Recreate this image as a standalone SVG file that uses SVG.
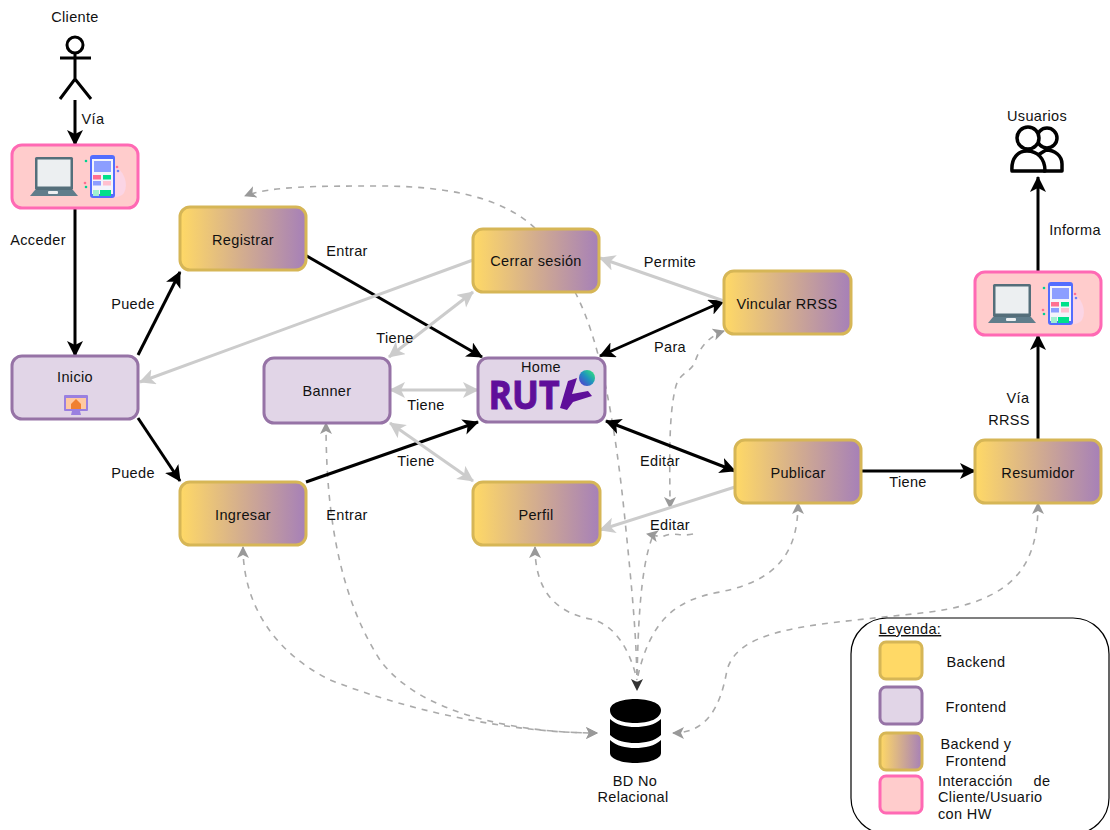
<svg xmlns="http://www.w3.org/2000/svg" xmlns:xlink="http://www.w3.org/1999/xlink" width="1110" height="830" viewBox="0 0 1110 830">
<style>
text{font-family:"Liberation Sans",Arial,sans-serif;font-size:14.5px;letter-spacing:.35px;fill:#111;text-anchor:middle;-webkit-text-stroke:.45px #111;transform:translateY(1px)}
.n{stroke-width:3}
.b{fill:#ffd966;stroke:#d6b656}
.f{fill:#e1d5e7;stroke:#9673a6}
.g{fill:url(#gr);stroke:#d6b656}
.h{fill:#ffcccc;stroke:#ff69b4}
.k{fill:none;stroke:#000;stroke-width:3}
.l{fill:none;stroke:#ccc;stroke-width:3}
.d{fill:none;stroke:#aaa;stroke-width:1.6;stroke-dasharray:6 6}
</style>
<defs>
<linearGradient id="gr"><stop offset="0" stop-color="#ffd966"/><stop offset="1" stop-color="#a680b8"/></linearGradient>
<linearGradient id="ball" x1="0" y1="1" x2="1" y2="0"><stop offset="0" stop-color="#5a30d0"/><stop offset=".5" stop-color="#2090c0"/><stop offset="1" stop-color="#30f070"/></linearGradient>
<marker id="ak" markerUnits="userSpaceOnUse" markerWidth="18" markerHeight="18" refX="15" refY="8" orient="auto-start-reverse"><path d="M0 0L16 8L0 16L4 8Z" fill="#000"/></marker>
<marker id="al" markerUnits="userSpaceOnUse" markerWidth="18" markerHeight="18" refX="15" refY="8" orient="auto-start-reverse"><path d="M0 0L16 8L0 16L4 8Z" fill="#ccc"/></marker>
<marker id="ad" markerUnits="userSpaceOnUse" markerWidth="14" markerHeight="14" refX="11" refY="6" orient="auto-start-reverse"><path d="M0 0L12 6L0 12L3 6Z" fill="#999"/></marker>
<marker id="adk" markerUnits="userSpaceOnUse" markerWidth="14" markerHeight="14" refX="11" refY="6" orient="auto-start-reverse"><path d="M0 0L12 6L0 12L3 6Z" fill="#333"/></marker>
<symbol id="hw" overflow="visible">
<rect x="7" y="0" width="38" height="33" rx="1.500" fill="#546e7a"/>
<rect x="9.500" y="2.500" width="33" height="27" fill="#eceff1"/>
<path d="M7 33H45L50 39H2Z" fill="#607d8b"/>
<rect x="20" y="34" width="10" height="3" rx="1" fill="#eceff1"/>
<path d="M84 6C96 14 101 26 96 36C93 40 87 41 82 40Z" fill="#fbd5e5"/>
<rect x="62" y="-2" width="25" height="43" rx="3" fill="#536dfe"/>
<rect x="64" y="2" width="21" height="35" fill="#f3f4fb"/>
<rect x="66" y="4" width="17" height="11" fill="#8c9eff"/>
<rect x="65" y="18" width="8" height="4.500" fill="#ff6f91"/><rect x="75" y="18" width="8" height="4.500" fill="#00e08a"/>
<rect x="65" y="24" width="8" height="4.500" fill="#8c9eff"/><rect x="75" y="24" width="8" height="4.500" fill="#ffc0d0"/>
<rect x="65" y="33" width="6" height="6" fill="#a0f0d0"/><rect x="72" y="33" width="11" height="6" fill="#00e08a"/>
<circle cx="58" cy="4" r="1.300" fill="#00d090"/><circle cx="57" cy="26" r="1.300" fill="#ff6f91"/><circle cx="58" cy="30" r="1.300" fill="#00d090"/><circle cx="89" cy="10" r="1.300" fill="#ff6f91"/><circle cx="90" cy="14" r="1.300" fill="#7080f0"/>
</symbol>
</defs>
<rect width="1110" height="830" fill="#fff"/>

<g id="connectors">
<path class="d" d="M535 228C500 195 440 186 380 186C320 186 270 186 245 196" marker-end="url(#ad)"/>
<path class="d" d="M575 292C600 340 615 420 625 520C632 590 637 640 637 690" marker-end="url(#adk)"/>
<path class="d" d="M326 423C326 500 335 590 380 660C420 715 520 733 597 733" marker-start="url(#ad)" marker-end="url(#ad)"/>
<path class="d" d="M243 547C243 600 270 650 330 680C420 715 520 733 597 733" marker-start="url(#ad)" marker-end="url(#ad)"/>
<path class="d" d="M535 547C535 590 555 612 590 619C615 624 630 650 637 680" marker-start="url(#ad)"/>
<path class="d" d="M798 503C798 550 780 580 720 592C675 600 650 620 637 680" marker-start="url(#ad)"/>
<path class="d" d="M1038 503C1038 560 1020 600 930 612C820 625 740 625 727 670C720 710 705 733 673 733" marker-start="url(#ad)" marker-end="url(#ad)"/>
<path class="d" d="M724 331C712 335 700 345 695 362C690 374 678 372 675 390C668 420 670 470 670 508" marker-start="url(#ad)" marker-end="url(#ad)"/>
<path class="d" d="M693 534C680 537 672 531 662 537L647 534" marker-end="url(#ad)"/>
<path class="d" d="M652 538C640 570 638 630 637 680"/>

<path class="k" d="M75 100V145" marker-end="url(#ak)"/>
<path class="k" d="M75 208V356" marker-end="url(#ak)"/>
<path class="k" d="M138 355L180 272" marker-end="url(#ak)"/>
<path class="k" d="M138 418L180 481" marker-end="url(#ak)"/>
<path class="k" d="M305 255L482 357" marker-end="url(#ak)"/>
<path class="k" d="M306 482L478 422" marker-end="url(#ak)"/>
<path class="k" d="M724 301L600 356" marker-start="url(#ak)" marker-end="url(#ak)"/>
<path class="k" d="M606 421L735 471" marker-start="url(#ak)" marker-end="url(#ak)"/>
<path class="k" d="M861 471H975" marker-end="url(#ak)"/>
<path class="k" d="M1038 440V335" marker-end="url(#ak)"/>
<path class="k" d="M1038 272V177" marker-end="url(#ak)"/>

<path class="l" d="M473 260L140 382" marker-end="url(#al)"/>
<path class="l" d="M724 301L600 258" marker-end="url(#al)"/>
<path class="l" d="M473 292L389 357" marker-start="url(#al)" marker-end="url(#al)"/>
<path class="l" d="M390 390H478" marker-start="url(#al)" marker-end="url(#al)"/>
<path class="l" d="M390 423L473 481" marker-start="url(#al)" marker-end="url(#al)"/>
<path class="l" d="M735 487L600 530" marker-end="url(#al)"/>
</g>

<g id="cliente">
<text x="75" y="21">Cliente</text>
<g fill="none" stroke="#000" stroke-width="3"><circle cx="75" cy="45" r="8"/><path d="M75 53V79M60 58H91M60 99L75 79L91 99"/></g>
</g>
<g id="dispositivo-cliente"><rect class="n h" x="12" y="145" width="126" height="63" rx="10"/><use xlink:href="#hw" href="#hw" x="28" y="157"/></g>
<g id="registrar"><rect class="n g" x="180" y="207" width="126" height="63" rx="10"/><text x="243" y="244">Registrar</text></g>
<g id="cerrar"><rect class="n g" x="473" y="229" width="126" height="63" rx="10"/><text x="536" y="265">Cerrar sesión</text></g>
<g id="vincular"><rect class="n g" x="724" y="271" width="127" height="63" rx="10"/><text x="787" y="308">Vincular RRSS</text></g>
<g id="inicio"><rect class="n f" x="12" y="356" width="126" height="63" rx="10"/><text x="75" y="381">Inicio</text>
<rect x="64" y="395" width="24" height="16" rx="1" fill="#9a80e0"/><rect x="66" y="398" width="20" height="11" fill="#ffc9a0"/><path d="M71 404L76 399L81 404V409H71Z" fill="#f08030"/><path d="M72 411H80L81 415H71Z" fill="#9a80e0"/></g>
<g id="banner"><rect class="n f" x="264" y="358" width="126" height="65" rx="10"/><text x="327" y="395">Banner</text></g>
<g id="home"><rect class="n f" x="478" y="358" width="127" height="64" rx="10"/><text x="541" y="371">Home</text>
<text x="524" y="408" style="font-family:'Open Sans','Liberation Sans',sans-serif;font-size:39px;font-weight:700;fill:#5f0f9a;stroke:#5f0f9a;stroke-width:1;-webkit-text-stroke:0;letter-spacing:0" textLength="71" lengthAdjust="spacingAndGlyphs">RUT</text>
<path d="M560 408L568 381L577 378L572 394L588 391L592 396L573 402L567 410Z" fill="#5f0f9a"/>
<circle cx="587" cy="378" r="8" fill="url(#ball)"/></g>
<g id="ingresar"><rect class="n g" x="180" y="482" width="126" height="63" rx="10"/><text x="243" y="519">Ingresar</text></g>
<g id="perfil"><rect class="n g" x="473" y="482" width="127" height="63" rx="10"/><text x="536" y="519">Perfil</text></g>
<g id="publicar"><rect class="n g" x="735" y="440" width="126" height="63" rx="10"/><text x="798" y="477">Publicar</text></g>
<g id="resumidor"><rect class="n g" x="975" y="440" width="126" height="63" rx="10"/><text x="1038" y="477">Resumidor</text></g>
<g id="dispositivo-usuarios"><rect class="n h" x="975" y="272" width="126" height="63" rx="10"/><use xlink:href="#hw" href="#hw" x="986" y="284"/></g>
<g id="usuarios"><text x="1037" y="120">Usuarios</text>
<g fill="#fff" stroke="#000" stroke-width="3.500" stroke-linejoin="round"><circle cx="1047" cy="138" r="10"/><path d="M1044 171H1062V164C1062 156 1055 150 1046 150L1038 155Z"/><circle cx="1028" cy="138" r="11"/><path d="M1012 171C1011 158 1018 151 1027 151C1037 151 1045 158 1045 171Z"/></g></g>
<g id="bd"><path d="M610 710C610 703 622 699 635 699C649 699 661 703 661 710C661 719 649 723 635 723C622 723 610 719 610 710ZM610 719C616 725 626 727 635 727C645 727 655 725 661 719V735C655 741 645 743 635 743C626 743 616 741 610 735ZM610 740C616 746 626 748 635 748C645 748 655 746 661 740V753C661 759 649 763 635 763C622 763 610 759 610 753Z" fill="#000"/>
<text x="635" y="785">BD No</text><text x="633" y="801">Relacional</text></g>

<g id="etiquetas">
<text x="93" y="123">Vía</text><text x="38" y="244">Acceder</text><text x="133" y="308">Puede</text><text x="133" y="477">Puede</text>
<text x="347" y="255">Entrar</text><text x="347" y="519">Entrar</text><text x="395" y="342">Tiene</text><text x="426" y="409">Tiene</text><text x="416" y="465">Tiene</text>
<text x="670" y="266">Permite</text><text x="670" y="351">Para</text><text x="660" y="465">Editar</text><text x="670" y="529">Editar</text><text x="908" y="486">Tiene</text>
<text x="1018" y="402">Vía</text><text x="1009" y="424">RRSS</text><text x="1075" y="234">Informa</text>
</g>

<g id="leyenda">
<rect x="851" y="618" width="258" height="216" rx="36" fill="none" stroke="#000" stroke-width="1.200"/>
<text x="910" y="633" text-decoration="underline">Leyenda:</text>
<rect class="n b" x="880" y="642" width="42" height="37" rx="6"/><text x="976" y="666">Backend</text>
<rect class="n f" x="880" y="687" width="42" height="37" rx="6"/><text x="976" y="711">Frontend</text>
<rect class="n g" x="880" y="733" width="42" height="37" rx="6"/><text x="976" y="748">Backend y</text><text x="976" y="765">Frontend</text>
<rect class="n h" x="880" y="776" width="42" height="37" rx="6"/>
<text x="938" y="785" style="text-anchor:start">Interacción</text><text x="1042" y="785">de</text><text x="938" y="801" style="text-anchor:start">Cliente/Usuario</text><text x="938" y="818" style="text-anchor:start">con HW</text>
</g>
</svg>
